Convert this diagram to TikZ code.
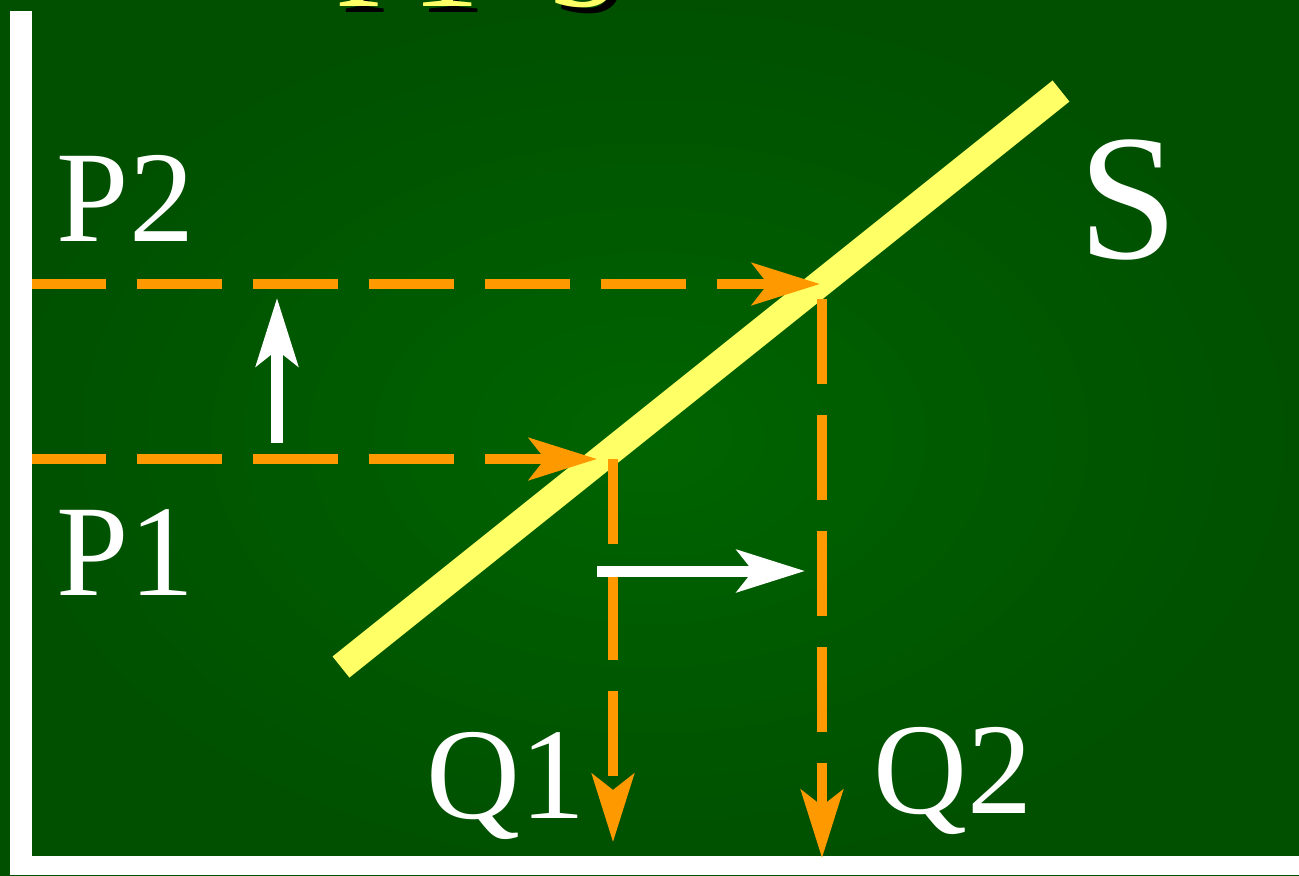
\documentclass[tikz,border=0pt]{standalone}
\usepackage{fontspec}
\setmainfont{Liberation Serif}
\usetikzlibrary{arrows.meta}

\definecolor{boardlight}{RGB}{0,100,0}
\definecolor{boarddark}{RGB}{0,80,0}
\definecolor{rayorange}{RGB}{255,153,0}
\definecolor{mirroryellow}{RGB}{255,255,102}

\begin{document}
\begin{tikzpicture}[x=0.01cm,y=-0.01cm,
  lbl/.style={text=white,inner sep=0pt,anchor=base west,font=\fontsize{37}{42}\selectfont},
  ray/.style={draw=rayorange,line width=1mm,dash pattern=on 8.5mm off 3.1mm,
    -{Stealth[length=6.8mm,width=4.2mm,inset=1.6mm]}},
  moveby/.style={draw=white,line width=1.1mm,
    -{Stealth[length=6.8mm,width=4.2mm,inset=1.6mm]}}]
  \useasboundingbox (0,0) rectangle (1299,875);
  % board
  \shade[inner color=boardlight,outer color=boarddark] (0,0) rectangle (1299,875);
  \fill[white] (10,11) rectangle (32,875);
  \fill[white] (10,856) rectangle (1299,875);
  % title (cut off at the top)
  \node[text=black,inner sep=0pt,anchor=base west,font=\fontsize{39}{44}\selectfont] at (341,12) {P1\hspace{0.48em}S};
  \node[text=mirroryellow,inner sep=0pt,anchor=base west,font=\fontsize{39}{44}\selectfont] (title) at (335,6) {P1\hspace{0.48em}S};
  % mirror
  \coordinate (mA) at (341,667);
  \coordinate (mB) at (1061,91);
  \draw[mirroryellow,line width=2.7mm] (mA) -- (mB);
  % rays
  \coordinate (pone) at (32,459);
  \coordinate (ptwo) at (32,284);
  \coordinate (hone) at (597,459);
  \coordinate (htwo) at (820,284);
  \coordinate (sone) at (613,459);
  \coordinate (stwo) at (822,299);
  \coordinate (fone) at (613,842);
  \coordinate (ftwo) at (822,858);
  \draw[ray,dash phase=1.1mm] (pone) -- (hone);
  \draw[ray,dash phase=1.1mm] (ptwo) -- (htwo);
  \draw[ray] (sone) -- (fone);
  \draw[ray] (stwo) -- (ftwo);
  % displacements
  \coordinate (uA) at (277,443);
  \coordinate (uB) at (277,298);
  \coordinate (rA) at (597,571);
  \coordinate (rB) at (805,571);
  \draw[moveby] (uA) -- (uB);
  \draw[moveby] (rA) -- (rB);
  % labels
  \node[lbl] (labptwo) at (56,241) {P2};
  \node[lbl] (labpone) at (56,595) {P1};
  \node[lbl] (labqone) at (426,818) {Q1};
  \node[lbl] (labqtwo) at (873,813) {Q2};
  \node[lbl,font=\fontsize{51}{56}\selectfont] (labs) at (1078,258) {S};
\end{tikzpicture}
\end{document}
